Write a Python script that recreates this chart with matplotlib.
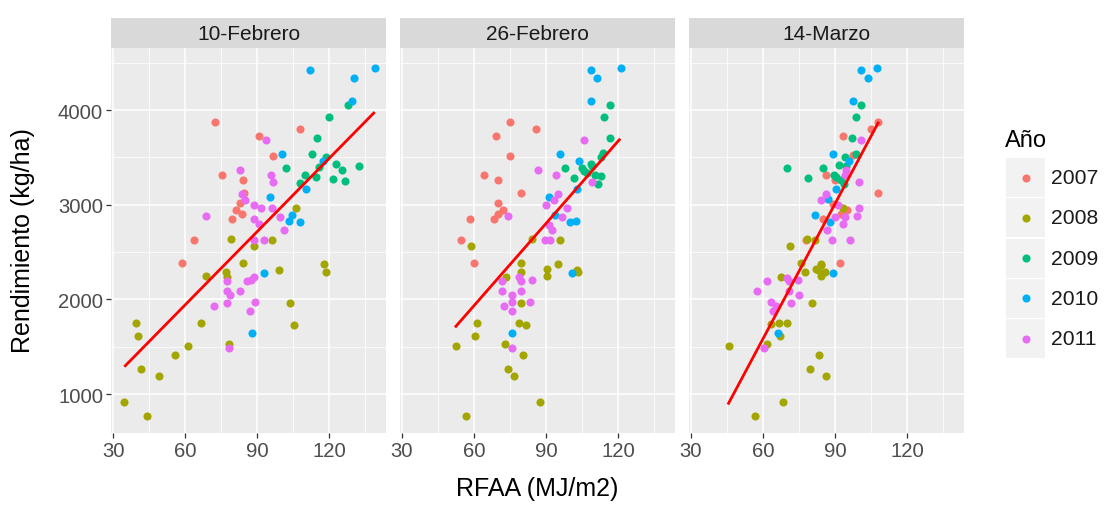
import numpy as np
import matplotlib
matplotlib.use('Agg')
import matplotlib.pyplot as plt
from matplotlib.patches import Rectangle

plt.rcParams['font.family'] = ['Liberation Sans', 'DejaVu Sans']

# Datos: RFAA (MJ/m2), rendimiento (kg/ha) y año de cada punto
# Panel 10-Febrero
rfaa_feb10 = [72.5, 107.8, 91, 96.7, 75.5, 84.2, 84.4, 82.8, 81.4, 83.6, 79.4, 63.9, 58.6,
              106.4, 79.2, 96.1, 88.6, 84.2, 117.8, 99, 68.9, 76.9, 77.5, 118.6, 103.9, 105.3,
              66.7, 39.7, 40.4, 61.4, 78.3, 55.8, 41.7, 49.2, 34.4, 44.2,
              128, 120, 115, 112.8, 118.6, 101.9, 110, 108, 114.4, 115.8, 123, 125.3, 132.5, 121.7, 126.7,
              111.9, 130.5, 139.1, 129.7, 100.3, 117.5, 95.3, 110.5, 104.7, 103.3, 107.8, 92.8, 87.9,
              93.7, 82.8, 95.8, 96.7, 83.6, 85, 88.6, 91.7, 96.1, 99.7, 68.9, 88.6, 90.8, 101.1,
              88.6, 93, 77.5, 77.5, 78.6, 71.9, 77.5, 82.8, 85.8, 87.5, 88.6, 89.3, 87.2, 78.3]
rend_feb10 = [3870, 3796, 3722, 3517, 3313, 3257, 3123, 3018, 2947, 2905, 2849, 2627, 2384,
              2961, 2637, 2623, 2567, 2384, 2370, 2310, 2250, 2285, 2233, 2285, 1958, 1729,
              1750, 1750, 1616, 1507, 1528, 1412, 1264, 1194, 912, 764,
              4053, 3923, 3701, 3535, 3507, 3387, 3313, 3229, 3292, 3394, 3430, 3369, 3405, 3274, 3253,
              4426, 4335, 4447, 4095, 3535, 3465, 3078, 3165, 2890, 2831, 2813, 2275, 1641,
              3686, 3369, 3313, 3236, 3109, 3052, 2996, 2961, 2961, 2866, 2883, 2849, 2796, 2736,
              2630, 2630, 2197, 2085, 2046, 1933, 1958, 2085, 2197, 2207, 2236, 1975, 1880, 1486]
anio_feb10 = [2007] * 13 + [2008] * 23 + [2009] * 15 + [2010] * 13 + [2011] * 28

# Panel 26-Febrero
rfaa_feb26 = [75.2, 86, 69.4, 75.2, 64.3, 69.9, 79.7, 69.9, 72.2, 70.2, 68.5, 58.2, 54.6, 59.9,
              59, 84.1, 95.8, 79.7, 94.9, 90.5, 103, 79.7, 73.2, 90.5, 103.3, 79.7, 78.8, 81.6,
              61.3, 60.6, 52.5, 73, 80.3, 74.4, 76.6, 87.7, 56.8,
              116.9, 114.1, 116.9, 113.9, 112.8, 98, 105, 109.4, 101.6, 105.8, 112.8, 111.9, 107.2, 110.3, 108.6,
              108.9, 111.1, 121.4, 108.9, 95.8, 103.9, 103, 91.4, 93.6, 100.2, 102.5, 100.7, 75.9,
              105.8, 86.9, 94.1, 109.4, 94.9, 93.3, 90.2, 98.6, 74.4, 96.9, 91.4, 92.7, 89.7,
              91.6, 71.6, 78.8, 79.7, 84.1, 71.6, 79.7, 76, 72.4, 76, 83.3, 76, 76]
rend_feb26 = [3870, 3796, 3722, 3517, 3313, 3257, 3123, 3018, 2947, 2905, 2849, 2849, 2627, 2384,
              2567, 2637, 2623, 2384, 2370, 2320, 2313, 2292, 2236, 2250, 2292, 1958, 1750, 1729,
              1750, 1616, 1507, 1528, 1412, 1264, 1194, 912, 764,
              4053, 3923, 3701, 3546, 3500, 3387, 3387, 3411, 3278, 3359, 3299, 3218, 3334, 3313, 3430,
              4426, 4335, 4447, 4095, 3535, 3465, 3165, 3078, 2890, 2813, 2831, 2275, 1641,
              3686, 3369, 3313, 3243, 3109, 3052, 2996, 2961, 2883, 2866, 2785, 2736, 2630,
              2630, 2197, 2236, 2197, 2207, 2085, 2085, 2046, 1933, 1969, 1975, 1880, 1486]
anio_feb26 = [2007] * 14 + [2008] * 23 + [2009] * 15 + [2010] * 13 + [2011] * 26

# Panel 14-Marzo
rfaa_mar14 = [108, 105, 93.3, 97.4, 86.1, 89.9, 108, 89.1, 95.2, 92.4, 84.9, 78, 92.2,
              78.5, 81.6, 71.3, 75.7, 84.1, 82.2, 93.3, 67.7, 77.4, 84.1, 83, 84.1, 85.8,
              80.5, 63.5, 66.9, 69.9, 67.1, 45.7, 61.8, 83.3, 79.7, 86.1, 68.5, 56.8,
              100.8, 98.6, 97.2, 98.6, 94.1, 91.9, 69.9, 85.2, 78.8, 89.7, 92.4, 93.9, 94.7, 90.5,
              100.8, 107.5, 103.9, 97.7, 89.1, 95.8, 90.5, 87.2, 81.6, 88, 89.1, 66.3,
              100.8, 94.7, 94.1, 100.2, 86.1, 84.1, 91.4, 100.2, 99.4, 89.9, 94.4, 93.3, 86.9,
              88.6, 96.4, 61.8, 69.9, 71, 74.5, 57.7, 70.7, 75.2, 63.2, 65.5, 71.6, 64.1, 60.6]
rend_mar14 = [3870, 3796, 3722, 3525, 3313, 3257, 3123, 3011, 2947, 2905, 2849, 2627, 2384,
              2637, 2623, 2567, 2384, 2370, 2320, 2961, 2236, 2292, 2366, 2310, 2250, 2285,
              1958, 1736, 1750, 1750, 1616, 1507, 1528, 1412, 1264, 1194, 912, 764,
              4053, 3923, 3701, 3535, 3500, 3422, 3387, 3387, 3278, 3313, 3264, 3218, 3411, 3289,
              4426, 4447, 4335, 4095, 3535, 3465, 3165, 3060, 2890, 2813, 2275, 1641,
              3686, 3369, 3313, 3236, 3109, 3052, 2996, 2961, 2883, 2866, 2866, 2792, 2736,
              2627, 2627, 2197, 2225, 2197, 2207, 2085, 2085, 2046, 1975, 1933, 1958, 1880, 1486]
anio_mar14 = [2007] * 13 + [2008] * 25 + [2009] * 14 + [2010] * 12 + [2011] * 27

# Extremos de la recta de ajuste de cada panel
ajuste_x = [[35.1, 138.6], [52.5, 120.6], [45.7, 108]]
ajuste_y = [[1299, 3968], [1715, 3686], [902, 3863]]

fechas = ['10-Febrero', '26-Febrero', '14-Marzo']
anios = [2007, 2008, 2009, 2010, 2011]
colores = ['#F8766D', '#A3A500', '#00BF7D', '#00B0F6', '#E76BF3']

paneles_x = [rfaa_feb10, rfaa_feb26, rfaa_mar14]
paneles_y = [rend_feb10, rend_feb26, rend_mar14]
paneles_a = [anio_feb10, anio_feb26, anio_mar14]

W, H = 1109, 506
fig = plt.figure(figsize=(W / 100, H / 100), dpi=100)


def caja(x0, y0, x1, y1):
    # Convierte píxeles (origen arriba a la izquierda) a fracción de figura
    return [x0 / W, 1 - y1 / H, (x1 - x0) / W, (y1 - y0) / H]


izquierdas = [110.7, 399.5, 688.5]
ancho = 275.5
top, bottom = 49.3, 434.3
strip_top = 19

for i in range(3):
    ax = fig.add_axes(caja(izquierdas[i], top, izquierdas[i] + ancho, bottom))
    ax.set_facecolor('#EBEBEB')
    for s in ax.spines.values():
        s.set_visible(False)
    ax.set_xlim(29.0, 143.8)
    ax.set_ylim(585, 4652)
    ax.set_xticks([30, 60, 90, 120])
    ax.set_xticks([45, 75, 105, 135], minor=True)
    ax.set_yticks([1000, 2000, 3000, 4000])
    ax.set_yticks([1500, 2500, 3500, 4500], minor=True)
    ax.grid(which='major', color='white', linewidth=1.1)
    ax.grid(which='minor', color='white', linewidth=0.55)
    ax.set_axisbelow(True)
    ax.tick_params(which='major', length=3.5, width=0.9, color='#333333',
                   labelsize=14.6, labelcolor='#4D4D4D', pad=2)
    ax.tick_params(which='minor', length=0)
    if i > 0:
        ax.tick_params(axis='y', which='major', length=0, labelleft=False)

    # Puntos coloreados por año
    xs = np.array(paneles_x[i])
    ys = np.array(paneles_y[i])
    an = np.array(paneles_a[i])
    for a, c in zip(anios, colores):
        m = an == a
        ax.scatter(xs[m], ys[m], s=34, color=c, linewidths=0, zorder=3)

    # Recta de ajuste
    ax.plot(ajuste_x[i], ajuste_y[i], color='red', linewidth=2.0, zorder=4)

    # Cabecera del panel
    sx = fig.add_axes(caja(izquierdas[i], strip_top, izquierdas[i] + ancho, top))
    sx.set_facecolor('#D9D9D9')
    sx.set_xticks([])
    sx.set_yticks([])
    for s in sx.spines.values():
        s.set_visible(False)
    sx.text(0.5, 0.5, fechas[i], ha='center', va='center', fontsize=15,
            color='#1A1A1A', transform=sx.transAxes)

# Títulos de los ejes
fig.text(537 / W, 1 - 489 / H, 'RFAA (MJ/m2)', ha='center', va='center', fontsize=18)
fig.text(23 / W, 1 - 241 / H, 'Rendimiento (kg/ha)', ha='center', va='center',
         rotation=90, fontsize=18)

# Leyenda dibujada a mano en coordenadas de píxel
lx = fig.add_axes([0, 0, 1, 1], zorder=-1)
lx.set_xlim(0, W)
lx.set_ylim(H, 0)
lx.axis('off')
lx.text(1005, 141, 'Año', ha='left', va='center', fontsize=17)
for k, (a, c) in enumerate(zip(anios, colores)):
    yc = 178.5 + 40.3 * k
    lx.add_patch(Rectangle((1006, yc - 19.5), 39, 39, facecolor='#F2F2F2', edgecolor='none'))
    lx.scatter([1025.5], [yc], s=34, color=c, linewidths=0)
    lx.text(1050.5, yc, str(a), ha='left', va='center', fontsize=15.2, color='#1A1A1A')

plt.savefig('out.png', dpi=100)
